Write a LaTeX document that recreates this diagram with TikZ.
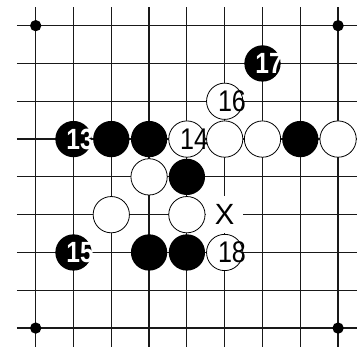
\documentclass[tikz,border=0pt]{standalone}
\usepackage{fontspec}
\newfontfamily\stonefont[FakeStretch=0.84]{Liberation Sans}
\newfontfamily\markfont{Liberation Sans}
\definecolor{LineClr}{rgb}{0.1,0.1,0.1}
\definecolor{StoneClr}{rgb}{0,0,0}

\begin{document}
\begin{tikzpicture}[
  gridline/.style={line width=0.9pt,color=LineClr},
  bstone/.style={circle,fill=StoneClr,minimum size=0.96cm,inner sep=0pt},
  wstone/.style={circle,draw=black,line width=0.6pt,fill=white,minimum size=0.96cm,inner sep=0pt},
  bnum/.style={text=white,font=\stonefont\bfseries\fontsize{22}{22}\selectfont,inner sep=0pt,xshift=5pt},
  wnum/.style={text=black,font=\stonefont\fontsize{22.5}{22.5}\selectfont,inner sep=0pt,xshift=5.5pt},
  pointmark/.style={fill=white,minimum size=0.98cm,inner sep=0pt,font=\markfont\fontsize{22}{22}\selectfont}]
\useasboundingbox (-0.944,-0.563) rectangle (8.606,8.679);

\foreach \i in {0,...,8}{
  \draw[gridline] (\i,-0.5) -- (\i,8.5);
  \draw[gridline] (-0.5,\i) -- (8.5,\i);
}

\foreach \p in {(0,0),(8,0),(0,8),(8,8)}
  \fill \p circle (0.15);

\node[bstone] (b17) at (6,7) {};
\node[bstone] (b13) at (1,5) {};
\node[bstone] (b25) at (2,5) {};
\node[bstone] (b35) at (3,5) {};
\node[bstone] (b75) at (7,5) {};
\node[bstone] (b44) at (4,4) {};
\node[bstone] (b15) at (1,2) {};
\node[bstone] (b32) at (3,2) {};
\node[bstone] (b42) at (4,2) {};

\node[wstone] (w16) at (5,6) {};
\node[wstone] (w14) at (4,5) {};
\node[wstone] (w55) at (5,5) {};
\node[wstone] (w65) at (6,5) {};
\node[wstone] (w85) at (8,5) {};
\node[wstone] (w34) at (3,4) {};
\node[wstone] (w23) at (2,3) {};
\node[wstone] (w43) at (4,3) {};
\node[wstone] (w18) at (5,2) {};

\node[pointmark] (x) at (5,3) {X};

\node[bnum] (n13) at (b13) {13};
\node[bnum] (n15) at (b15) {15};
\node[bnum] (n17) at (b17) {17};
\node[wnum] (n14) at (w14) {14};
\node[wnum] (n16) at (w16) {16};
\node[wnum] (n18) at (w18) {18};

\end{tikzpicture}
\end{document}
